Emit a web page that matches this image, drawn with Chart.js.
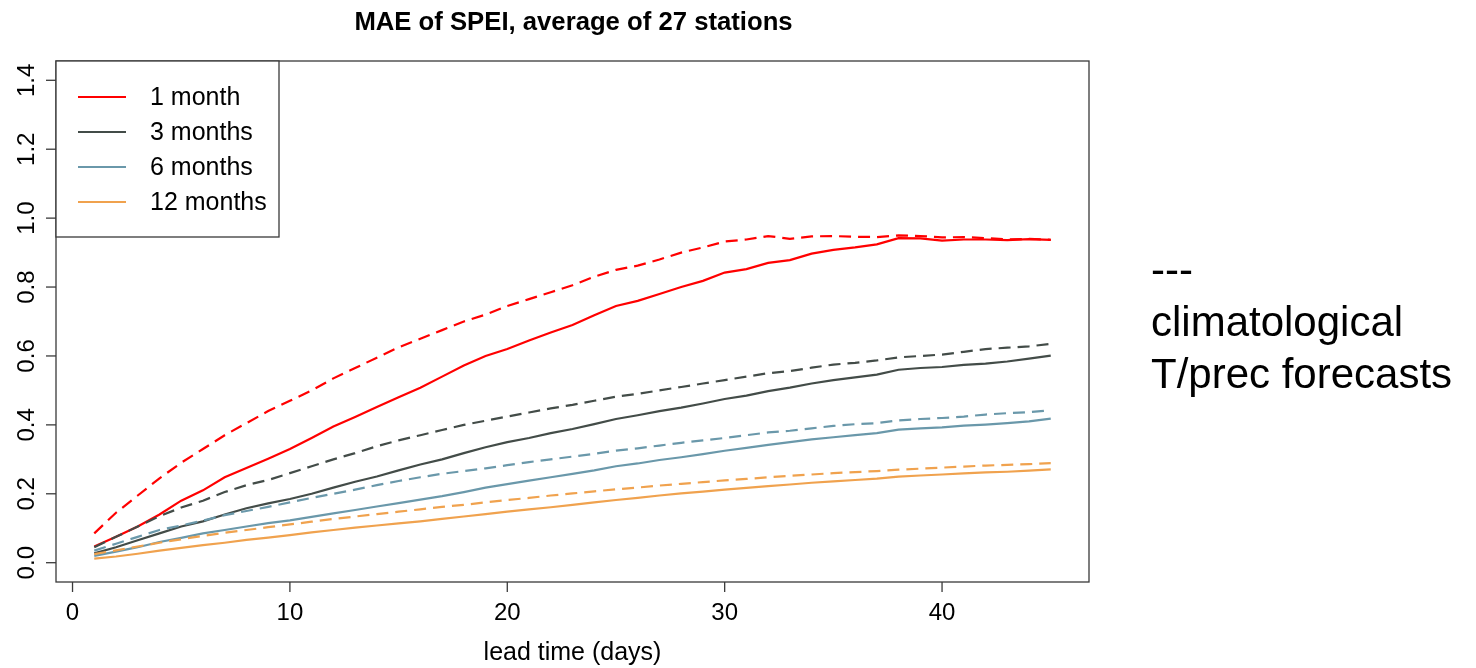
<!DOCTYPE html>
<html>
<head>
<meta charset="utf-8">
<script src="https://cdn.jsdelivr.net/npm/chart.js@4"></script>
<style>
  html, body { margin: 0; padding: 0; background: #fff; }
  #wrap { position: relative; width: 1476px; height: 668px; }
  #note {
    position: absolute; left: 1151px; top: 244px;
    font-family: "Liberation Sans", Arial, sans-serif;
    font-size: 42px; line-height: 52px; color: #000;
  }
</style>
</head>
<body>
<div id="wrap">
  <canvas id="maeChart" width="1476" height="668"></canvas>
  <div id="note">---<br>climatological<br>T/prec forecasts</div>
</div>
<script>
// lead times 1..45 days
const leadDays = Array.from({ length: 45 }, (_, i) => i + 1);

// MAE with the forecast-driven SPEI (solid)
const mae1m = [0.047, 0.075, 0.105, 0.140, 0.180, 0.210, 0.248, 0.275, 0.302, 0.330,
  0.362, 0.395, 0.423, 0.452, 0.480, 0.508, 0.540, 0.572, 0.600, 0.620,
  0.645, 0.668, 0.690, 0.718, 0.745, 0.760, 0.780, 0.800, 0.818, 0.842,
  0.852, 0.870, 0.878, 0.897, 0.908, 0.915, 0.924, 0.942, 0.941, 0.935,
  0.938, 0.938, 0.936, 0.939, 0.937];
const mae3m = [0.027, 0.045, 0.065, 0.085, 0.105, 0.120, 0.140, 0.158, 0.172, 0.185,
  0.200, 0.218, 0.235, 0.250, 0.268, 0.285, 0.300, 0.318, 0.335, 0.350,
  0.362, 0.376, 0.388, 0.402, 0.417, 0.428, 0.440, 0.450, 0.462, 0.475,
  0.485, 0.498, 0.508, 0.520, 0.530, 0.538, 0.546, 0.560, 0.565, 0.568,
  0.574, 0.578, 0.584, 0.592, 0.601];
const mae6m = [0.020, 0.032, 0.045, 0.060, 0.072, 0.085, 0.095, 0.105, 0.115, 0.123,
  0.133, 0.143, 0.153, 0.163, 0.173, 0.183, 0.193, 0.205, 0.218, 0.228,
  0.238, 0.248, 0.258, 0.268, 0.280, 0.288, 0.298, 0.306, 0.315, 0.325,
  0.333, 0.342, 0.350, 0.358, 0.364, 0.370, 0.376, 0.386, 0.390, 0.393,
  0.398, 0.401, 0.405, 0.410, 0.418];
const mae12m = [0.012, 0.018, 0.026, 0.035, 0.043, 0.051, 0.058, 0.066, 0.073, 0.080,
  0.088, 0.095, 0.102, 0.108, 0.114, 0.120, 0.127, 0.134, 0.141, 0.148,
  0.155, 0.161, 0.168, 0.175, 0.182, 0.188, 0.195, 0.201, 0.206, 0.212,
  0.217, 0.222, 0.227, 0.232, 0.236, 0.240, 0.244, 0.250, 0.253, 0.256,
  0.259, 0.262, 0.264, 0.267, 0.271];

// MAE with climatological T/prec forecasts (dashed)
const clim1m = [0.085, 0.145, 0.195, 0.245, 0.290, 0.330, 0.370, 0.405, 0.440, 0.470,
  0.500, 0.535, 0.565, 0.595, 0.625, 0.650, 0.675, 0.700, 0.720, 0.745,
  0.765, 0.785, 0.805, 0.830, 0.850, 0.862, 0.880, 0.900, 0.915, 0.932,
  0.938, 0.948, 0.940, 0.947, 0.948, 0.946, 0.945, 0.950, 0.948, 0.944,
  0.945, 0.942, 0.938, 0.940, 0.937];
const clim3m = [0.045, 0.075, 0.105, 0.135, 0.160, 0.180, 0.205, 0.225, 0.240, 0.260,
  0.280, 0.300, 0.318, 0.338, 0.355, 0.370, 0.385, 0.400, 0.412, 0.424,
  0.436, 0.448, 0.458, 0.470, 0.482, 0.490, 0.500, 0.510, 0.520, 0.530,
  0.540, 0.550, 0.556, 0.566, 0.575, 0.580, 0.587, 0.596, 0.600, 0.604,
  0.612, 0.620, 0.624, 0.628, 0.635];
const clim6m = [0.035, 0.055, 0.075, 0.095, 0.108, 0.122, 0.138, 0.150, 0.162, 0.175,
  0.188, 0.200, 0.212, 0.225, 0.237, 0.248, 0.258, 0.266, 0.274, 0.283,
  0.292, 0.300, 0.308, 0.316, 0.325, 0.332, 0.340, 0.348, 0.355, 0.362,
  0.370, 0.378, 0.383, 0.390, 0.397, 0.402, 0.405, 0.413, 0.417, 0.420,
  0.424, 0.430, 0.434, 0.437, 0.442];
const clim12m = [0.025, 0.036, 0.047, 0.058, 0.068, 0.078, 0.087, 0.095, 0.103, 0.111,
  0.119, 0.127, 0.134, 0.141, 0.148, 0.155, 0.162, 0.168, 0.175, 0.182,
  0.188, 0.195, 0.201, 0.207, 0.213, 0.218, 0.224, 0.229, 0.234, 0.239,
  0.243, 0.248, 0.252, 0.256, 0.260, 0.263, 0.266, 0.270, 0.273, 0.276,
  0.279, 0.282, 0.284, 0.286, 0.289];

const scaleNames = ['1 month', '3 months', '6 months', '12 months'];
const scaleColors = ['#ff0000', '#434c48', '#6a98aa', '#f0a24e'];

const xTicks = [0, 10, 20, 30, 40];
const yTicks = [0, 0.2, 0.4, 0.6, 0.8, 1.0, 1.2, 1.4];
const yTickLabels = ['0.0', '0.2', '0.4', '0.6', '0.8', '1.0', '1.2', '1.4'];

const chartTitle = 'MAE of SPEI, average of 27 stations';
const xTitle = 'lead time (days)';

const FONT = '"Liberation Sans", Arial, sans-serif';

function toPoints(values) {
    return values.map((v, i) => ({ x: leadDays[i], y: v }));
}

const solidSeries = [mae1m, mae3m, mae6m, mae12m];
const dashedSeries = [clim1m, clim3m, clim6m, clim12m];

const datasets = [];
dashedSeries.forEach((vals, i) => {
    datasets.push({
        label: scaleNames[i] + ' (clim)',
        data: toPoints(vals),
        borderColor: scaleColors[i],
        borderWidth: 2.2,
        borderDash: [12, 7],
        legendEntry: false,
    });
});
solidSeries.forEach((vals, i) => {
    datasets.push({
        label: scaleNames[i],
        data: toPoints(vals),
        borderColor: scaleColors[i],
        borderWidth: 2.2,
        legendEntry: true,
    });
});

// base-graphics style frame, axes, titles and legend
const rFrame = {
    id: 'rFrame',
    afterDraw(chart) {
        const ctx = chart.ctx;
        const area = chart.chartArea;
        const xs = chart.scales.x;
        const ys = chart.scales.y;
        ctx.save();
        ctx.strokeStyle = '#3a3a3a';
        ctx.fillStyle = '#000';
        ctx.lineWidth = 1.3;

        // plot box
        ctx.strokeRect(area.left, area.top, area.right - area.left, area.bottom - area.top);

        // x axis
        ctx.font = '24px ' + FONT;
        ctx.textAlign = 'center';
        ctx.textBaseline = 'alphabetic';
        xTicks.forEach(t => {
            const px = xs.getPixelForValue(t);
            ctx.beginPath();
            ctx.moveTo(px, area.bottom);
            ctx.lineTo(px, area.bottom + 10);
            ctx.stroke();
            ctx.fillText(String(t), px, area.bottom + 38);
        });

        // y axis, labels turned parallel to the axis
        yTicks.forEach((t, i) => {
            const py = ys.getPixelForValue(t);
            ctx.beginPath();
            ctx.moveTo(area.left, py);
            ctx.lineTo(area.left - 10, py);
            ctx.stroke();
            ctx.save();
            ctx.translate(area.left - 22, py);
            ctx.rotate(-Math.PI / 2);
            ctx.fillText(yTickLabels[i], 0, 0);
            ctx.restore();
        });

        // titles
        const midX = (area.left + area.right) / 2;
        ctx.font = '25px ' + FONT;
        ctx.fillText(xTitle, midX, area.bottom + 78);
        ctx.font = 'bold 25.7px ' + FONT;
        ctx.fillText(chartTitle, midX + 1, 30);

        // legend in the top-left corner
        const entries = chart.data.datasets.filter(d => d.legendEntry);
        const boxW = 223, boxH = 176, rowH = 35;
        ctx.fillStyle = '#fff';
        ctx.fillRect(area.left, area.top, boxW, boxH);
        ctx.strokeRect(area.left, area.top, boxW, boxH);
        ctx.font = '25px ' + FONT;
        ctx.textAlign = 'left';
        ctx.textBaseline = 'middle';
        entries.forEach((d, i) => {
            const cy = area.top + 36 + i * rowH;
            ctx.strokeStyle = d.borderColor;
            ctx.lineWidth = 2.2;
            ctx.beginPath();
            ctx.moveTo(area.left + 22, cy);
            ctx.lineTo(area.left + 70, cy);
            ctx.stroke();
            ctx.fillStyle = '#000';
            ctx.fillText(d.label, area.left + 94, cy + 1);
        });
        ctx.restore();
    }
};

new Chart(document.getElementById('maeChart').getContext('2d'), {
    type: 'line',
    data: { datasets: datasets },
    options: {
        responsive: false,
        animation: false,
        devicePixelRatio: 1,
        layout: { padding: { left: 56, top: 61, right: 387, bottom: 86 } },
        elements: {
            point: { radius: 0 },
            line: { tension: 0, fill: false, borderCapStyle: 'butt' },
        },
        scales: {
            x: { type: 'linear', min: -0.76, max: 46.76, display: false },
            y: { type: 'linear', min: -0.056, max: 1.456, display: false },
        },
        plugins: {
            legend: { display: false },
            tooltip: { enabled: false },
            title: { display: false },
        },
    },
    plugins: [rFrame],
});
</script>
</body>
</html>
